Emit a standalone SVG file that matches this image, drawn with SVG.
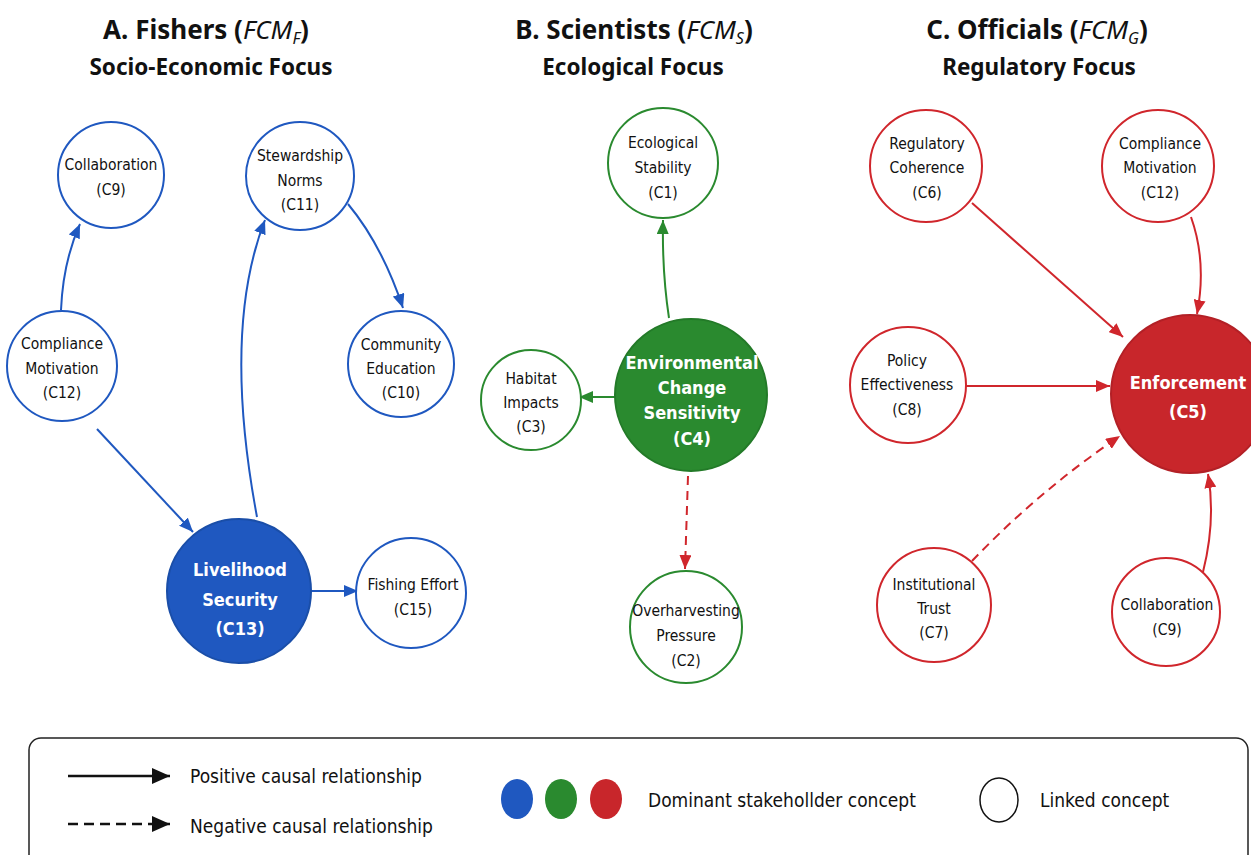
<svg xmlns="http://www.w3.org/2000/svg" width="1251" height="855" viewBox="0 0 1251 855">
<style>
.title{font-family:"Noto Sans","Open Sans","Liberation Sans",sans-serif;font-weight:bold;font-size:26px;fill:#111;text-anchor:middle}
.sub{font-family:"Noto Sans","Open Sans","Liberation Sans",sans-serif;font-weight:bold;font-size:22.5px;fill:#111;text-anchor:middle}
.it{font-style:italic;font-weight:normal}
.lbl{font-family:"DejaVu Sans Condensed","Liberation Sans Narrow","Liberation Sans",sans-serif;font-size:15.5px;fill:#111;text-anchor:middle;dominant-baseline:central}
.dom{font-family:"DejaVu Sans Condensed","Liberation Sans Narrow","Liberation Sans",sans-serif;font-size:18px;font-weight:bold;fill:#fff;text-anchor:middle;dominant-baseline:central}
.leg{font-family:"DejaVu Sans Condensed","Liberation Sans Narrow","Liberation Sans",sans-serif;font-size:19px;fill:#111;dominant-baseline:central}
.nb{fill:#fff;stroke:#1f58c0;stroke-width:2}
.ng{fill:#fff;stroke:#2a8a2f;stroke-width:2}
.nr{fill:#fff;stroke:#d0262c;stroke-width:2}
.eb{fill:none;stroke:#1f58c0;stroke-width:2;marker-end:url(#ab)}
.eg{fill:none;stroke:#2a8a2f;stroke-width:2;marker-end:url(#ag)}
.er{fill:none;stroke:#d0262c;stroke-width:2;marker-end:url(#ar)}
.dash{stroke-dasharray:9,6}
</style>
<defs>
<marker id="ab" markerUnits="userSpaceOnUse" markerWidth="14" markerHeight="12" refX="14" refY="6" orient="auto"><path d="M0,0 L14,6 L0,12 z" fill="#1f58c0"/></marker>
<marker id="ag" markerUnits="userSpaceOnUse" markerWidth="14" markerHeight="12" refX="14" refY="6" orient="auto"><path d="M0,0 L14,6 L0,12 z" fill="#2a8a2f"/></marker>
<marker id="ar" markerUnits="userSpaceOnUse" markerWidth="14" markerHeight="12" refX="14" refY="6" orient="auto"><path d="M0,0 L14,6 L0,12 z" fill="#d0262c"/></marker>
<marker id="ak" markerUnits="userSpaceOnUse" markerWidth="18" markerHeight="16" refX="18" refY="8" orient="auto"><path d="M0,0 L18,8 L0,16 z" fill="#111"/></marker>
</defs>
<rect width="1251" height="855" fill="#fff"/>

<g id="titles">
<text class="title" x="206" y="39">A. Fishers (<tspan class="it">FCM</tspan><tspan class="it" font-size="16" dy="5">F</tspan><tspan dy="-5">)</tspan></text>
<text class="sub" x="211" y="75">Socio-Economic Focus</text>
<text class="title" x="634" y="39">B. Scientists (<tspan class="it">FCM</tspan><tspan class="it" font-size="16" dy="5">S</tspan><tspan dy="-5">)</tspan></text>
<text class="sub" x="633" y="75">Ecological Focus</text>
<text class="title" x="1037" y="39">C. Officials (<tspan class="it">FCM</tspan><tspan class="it" font-size="16" dy="5">G</tspan><tspan dy="-5">)</tspan></text>
<text class="sub" x="1039" y="75">Regulatory Focus</text>
</g>

<g id="connectors">
<path class="eb" d="M61,310 Q63,262 80,224"/>
<path class="eb" d="M257,517 Q222,330 265,220"/>
<path class="eb" d="M348,204 Q382,245 403,308"/>
<path class="eb" d="M97,429 L193,532"/>
<path class="eb" d="M307,591 L358,591"/>
<path class="eg" d="M669,318 Q662,272 663,220"/>
<path class="eg" d="M616,397 L579,397"/>
<path class="er dash" d="M688,476 L685,569"/>
<path class="er" d="M972,203 L1123,337"/>
<path class="er" d="M1191,217 Q1207,262 1197,314"/>
<path class="er" d="M963,386 L1110,386"/>
<path class="er dash" d="M972,561 Q1040,490 1120,436"/>
<path class="er" d="M1203,572 Q1216,520 1208,474"/>
</g>

<g id="A-C9"><circle class="nb" cx="111" cy="175" r="53"/><text class="lbl" x="111" y="165">Collaboration</text><text class="lbl" x="111" y="190">(C9)</text></g>
<g id="A-C11"><circle class="nb" cx="300" cy="176" r="54"/><text class="lbl" x="300" y="156">Stewardship</text><text class="lbl" x="300" y="181">Norms</text><text class="lbl" x="300" y="205">(C11)</text></g>
<g id="A-C12"><circle class="nb" cx="62" cy="366" r="55"/><text class="lbl" x="62" y="344">Compliance</text><text class="lbl" x="62" y="369">Motivation</text><text class="lbl" x="62" y="393">(C12)</text></g>
<g id="A-C10"><circle class="nb" cx="401" cy="364" r="53"/><text class="lbl" x="401" y="345">Community</text><text class="lbl" x="401" y="369">Education</text><text class="lbl" x="401" y="393">(C10)</text></g>
<g id="A-C13"><circle cx="239" cy="591" r="72" fill="#1f58c0" stroke="#1a4ea8" stroke-width="2"/><text class="dom" x="240" y="569">Livelihood</text><text class="dom" x="240" y="599">Security</text><text class="dom" x="240" y="628">(C13)</text></g>
<g id="A-C15"><circle class="nb" cx="411" cy="593" r="55"/><text class="lbl" x="413" y="585">Fishing Effort</text><text class="lbl" x="413" y="610">(C15)</text></g>

<g id="B-C1"><circle class="ng" cx="663" cy="163" r="55"/><text class="lbl" x="663" y="143">Ecological</text><text class="lbl" x="663" y="168">Stability</text><text class="lbl" x="663" y="193">(C1)</text></g>
<g id="B-C4"><circle cx="691" cy="395" r="76" fill="#2a8a2f" stroke="#237a28" stroke-width="2"/><text class="dom" x="692" y="362" font-size="16">Environmental</text><text class="dom" x="692" y="387" font-size="16.5">Change</text><text class="dom" x="692" y="412" font-size="16.5">Sensitivity</text><text class="dom" x="692" y="438" font-size="16.5">(C4)</text></g>
<g id="B-C3"><circle class="ng" cx="531" cy="400" r="50"/><text class="lbl" x="531" y="379">Habitat</text><text class="lbl" x="531" y="403">Impacts</text><text class="lbl" x="531" y="427">(C3)</text></g>
<g id="B-C2"><circle class="ng" cx="686" cy="627" r="56"/><text class="lbl" x="686" y="611">Overharvesting</text><text class="lbl" x="686" y="636">Pressure</text><text class="lbl" x="686" y="661">(C2)</text></g>

<g id="C-C6"><circle class="nr" cx="926" cy="166" r="56"/><text class="lbl" x="927" y="144">Regulatory</text><text class="lbl" x="927" y="168">Coherence</text><text class="lbl" x="927" y="193">(C6)</text></g>
<g id="C-C12"><circle class="nr" cx="1158" cy="166" r="56"/><text class="lbl" x="1160" y="144">Compliance</text><text class="lbl" x="1160" y="168">Motivation</text><text class="lbl" x="1160" y="193">(C12)</text></g>
<g id="C-C8"><circle class="nr" cx="908" cy="385" r="58"/><text class="lbl" x="907" y="361">Policy</text><text class="lbl" x="907" y="385">Effectiveness</text><text class="lbl" x="907" y="410">(C8)</text></g>
<g id="C-C5"><circle cx="1190" cy="394" r="79" fill="#c8262b" stroke="#b32026" stroke-width="2"/><text class="dom" x="1188" y="382">Enforcement</text><text class="dom" x="1188" y="411">(C5)</text></g>
<g id="C-C7"><circle class="nr" cx="934" cy="605" r="57"/><text class="lbl" x="934" y="585">Institutional</text><text class="lbl" x="934" y="609">Trust</text><text class="lbl" x="934" y="633">(C7)</text></g>
<g id="C-C9"><circle class="nr" cx="1166" cy="612" r="54"/><text class="lbl" x="1167" y="605">Collaboration</text><text class="lbl" x="1167" y="630">(C9)</text></g>

<g id="legend">
<rect x="29" y="738" width="1219" height="135" rx="12" fill="#fff" stroke="#222" stroke-width="1.5"/>
<line x1="68" y1="776" x2="170" y2="776" stroke="#111" stroke-width="2.5" marker-end="url(#ak)"/>
<text class="leg" x="190" y="776">Positive causal relationship</text>
<line x1="68" y1="824" x2="170" y2="824" stroke="#111" stroke-width="2.5" stroke-dasharray="10,6" marker-end="url(#ak)"/>
<text class="leg" x="190" y="826">Negative causal relationship</text>
<ellipse cx="517" cy="799" rx="16" ry="20" fill="#1f58c0"/>
<ellipse cx="561" cy="799" rx="16" ry="20" fill="#2a8a2f"/>
<ellipse cx="606" cy="799" rx="16" ry="20" fill="#c8262b"/>
<text class="leg" x="648" y="800">Dominant stakehollder concept</text>
<ellipse cx="999" cy="800" rx="19" ry="22" fill="#fff" stroke="#111" stroke-width="1.5"/>
<text class="leg" x="1040" y="800">Linked concept</text>
</g>
</svg>
